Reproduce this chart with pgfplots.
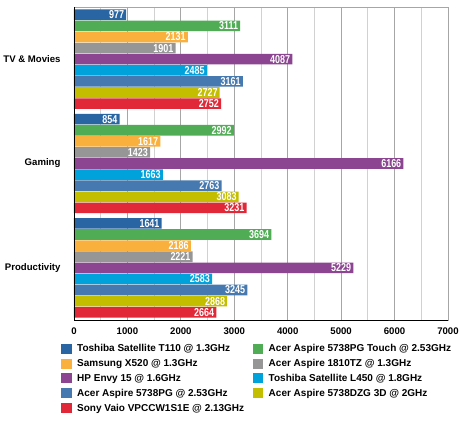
\documentclass[border=0pt]{standalone}
\usepackage{fontspec}
\setmainfont{Liberation Sans}
\newfontfamily\condfont[FakeStretch=0.78]{Liberation Sans}
\usepackage{pgfplots}
\pgfplotsset{compat=1.18}
\definecolor{cA}{HTML}{2A65A3}
\definecolor{cB}{HTML}{50AD55}
\definecolor{cC}{HTML}{F9B03D}
\definecolor{cD}{HTML}{969696}
\definecolor{cE}{HTML}{8B4591}
\definecolor{cF}{HTML}{00A2DC}
\definecolor{cG}{HTML}{4679AF}
\definecolor{cH}{HTML}{C3BF00}
\definecolor{cI}{HTML}{E02839}
\begin{document}
\begin{tikzpicture}
\path[use as bounding box] (-74pt,-100pt) rectangle (386pt,320pt);
\begin{axis}[at={(0pt,0pt)}, anchor=south west, scale only axis,
  width=374pt, height=313pt,
  xbar=0.5pt, bar width=10.6pt,
  xmin=0, xmax=7000, ymin=-0.5, ymax=2.5, y dir=reverse,
  ytick={0,1,2}, yticklabels={TV \& Movies, Gaming, Productivity},
  xtick={0,1000,...,7000}, minor x tick num=1,
  xmajorgrids, xminorgrids,
  major grid style={color=black!35, line width=0.8pt},
  minor grid style={color=black!18, line width=0.8pt},
  major tick length=0pt, minor tick length=0pt,
  axis line style={black!35, line width=0.8pt},
  tick label style={font=\fontsize{9.6}{11}\selectfont\bfseries},
  /pgf/number format/assume math mode=true,
  /pgf/number format/1000 sep={},
  scaled x ticks=false,
  xticklabel style={yshift=-4pt},
  yticklabel style={xshift=-10pt},
  point meta=x,
  nodes near coords,
  nodes near coords style={anchor=east, text=white, font=\condfont\fontsize{11.5}{12}\selectfont\bfseries, xshift=-1pt, inner sep=1pt},
  legend columns=2,
  legend style={at={(0,0)}, anchor=north west, xshift=-16pt, yshift=-20pt, draw=none, fill=none,
    font=\fontsize{10}{11}\selectfont\bfseries, row sep=2.2pt,
    /tikz/every even column/.append style={column sep=6.5pt}},
  legend cell align=left,
  legend image code/.code={\fill[#1] (0pt,-5pt) rectangle (10.5pt,5pt); \path (14pt,0pt);},
]
\addplot[fill=cA, draw=none, bar shift=44.4pt] coordinates {(977,0) (854,1) (1641,2)};
\addlegendentry{Toshiba Satellite T110 @ 1.3GHz}
\addplot[fill=cB, draw=none, bar shift=33.3pt] coordinates {(3111,0) (2992,1) (3694,2)};
\addlegendentry{Acer Aspire 5738PG Touch @ 2.53GHz}
\addplot[fill=cC, draw=none, bar shift=22.2pt] coordinates {(2131,0) (1617,1) (2186,2)};
\addlegendentry{Samsung X520 @ 1.3GHz}
\addplot[fill=cD, draw=none, bar shift=11.1pt] coordinates {(1901,0) (1423,1) (2221,2)};
\addlegendentry{Acer Aspire 1810TZ @ 1.3GHz}
\addplot[fill=cE, draw=none, bar shift=0pt] coordinates {(4087,0) (6166,1) (5229,2)};
\addlegendentry{HP Envy 15 @ 1.6GHz}
\addplot[fill=cF, draw=none, bar shift=-11.1pt] coordinates {(2485,0) (1663,1) (2583,2)};
\addlegendentry{Toshiba Satellite L450 @ 1.8GHz}
\addplot[fill=cG, draw=none, bar shift=-22.2pt] coordinates {(3161,0) (2763,1) (3245,2)};
\addlegendentry{Acer Aspire 5738PG @ 2.53GHz}
\addplot[fill=cH, draw=none, bar shift=-33.3pt] coordinates {(2727,0) (3083,1) (2868,2)};
\addlegendentry{Acer Aspire 5738DZG 3D @ 2GHz}
\addplot[fill=cI, draw=none, bar shift=-44.4pt] coordinates {(2752,0) (3231,1) (2664,2)};
\addlegendentry{Sony Vaio VPCCW1S1E @ 2.13GHz}
\draw[black, line width=0.9pt] (axis cs:0,-0.5) -- (axis cs:0,2.5) -- (axis cs:7000,2.5);
\end{axis}
\end{tikzpicture}
\end{document}
